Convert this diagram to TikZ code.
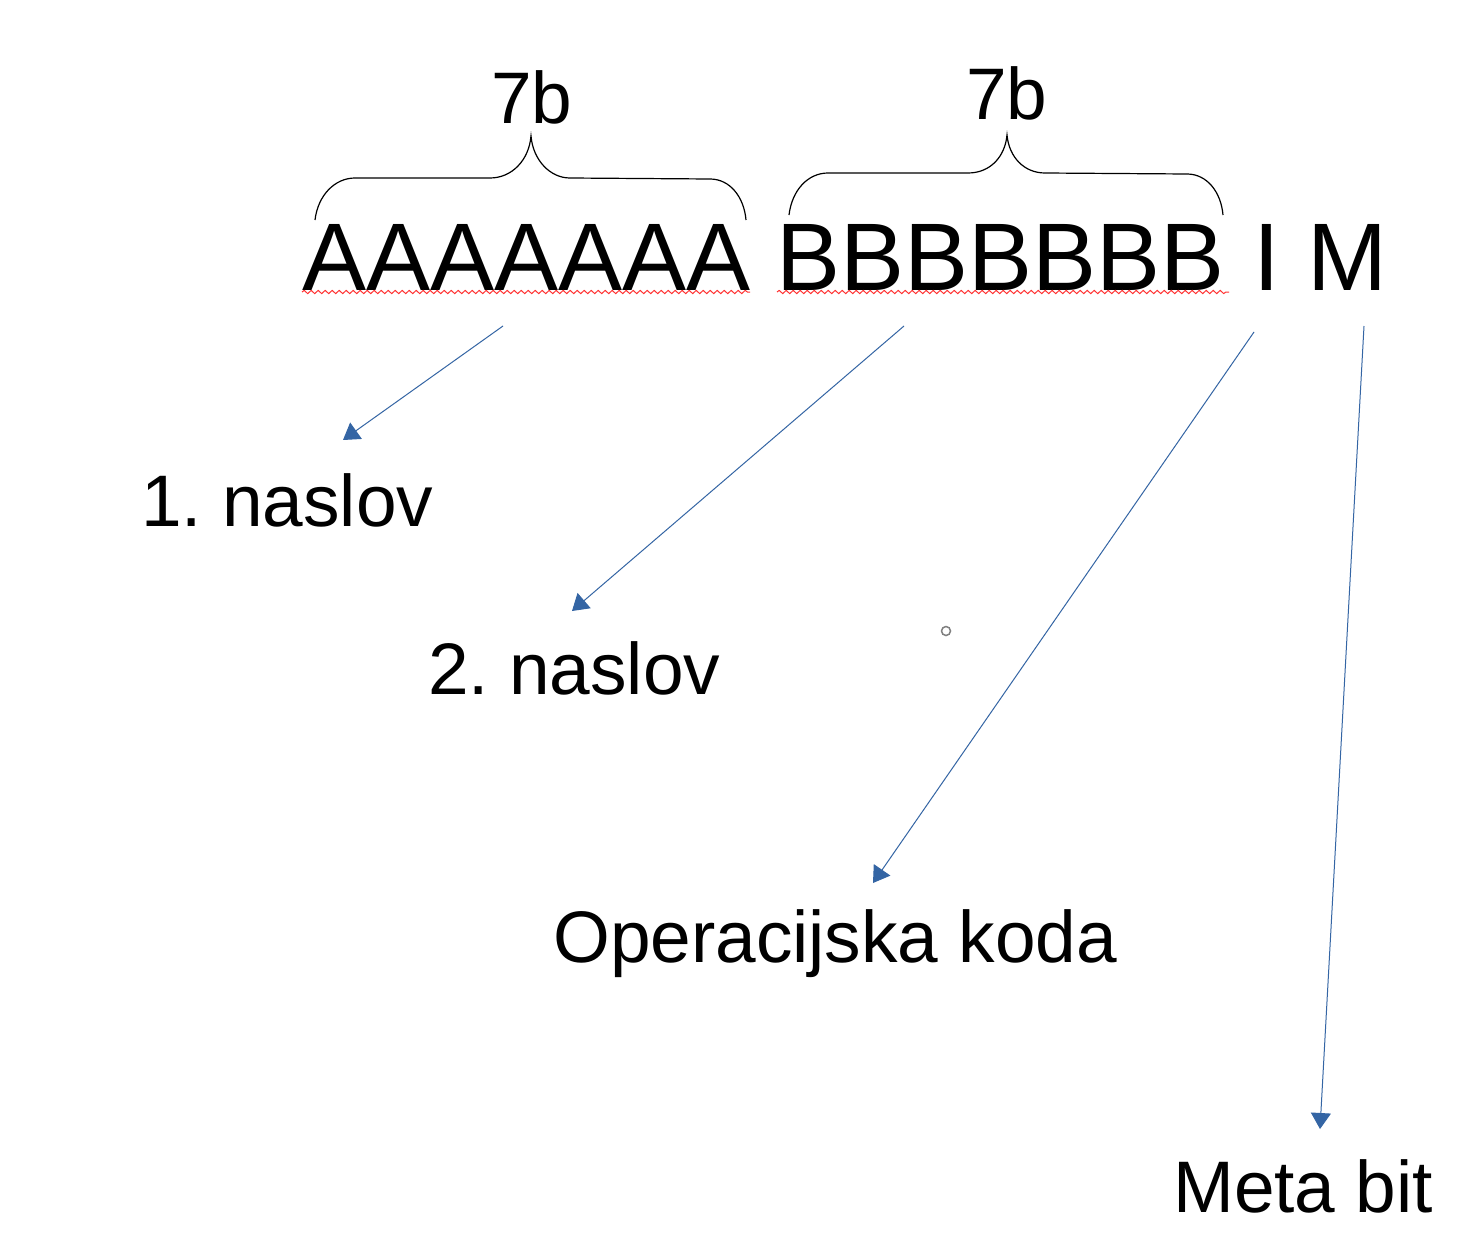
\documentclass[tikz,border=0pt]{standalone}
\usepackage{fontspec}
\setmainfont{Liberation Sans}
\usetikzlibrary{arrows.meta,decorations.pathmorphing}
\definecolor{arrowblue}{RGB}{52,101,164}
\frenchspacing
\begin{document}
\begin{tikzpicture}[x=1pt,y=-1pt,
  big/.style={font=\fontsize{96}{110}\selectfont, inner sep=0pt, anchor=base west},
  lbl/.style={font=\fontsize{73}{86}\selectfont, inner sep=0pt, anchor=base west},
  conn/.style={draw=arrowblue, line width=1pt, -{Triangle[length=16pt,width=20pt]}, arrowblue},
  bracestyle/.style={draw=black, line width=1.2pt},
  spell/.style={draw=red!80!white, line width=1pt, decorate, decoration={snake, amplitude=1.6pt, segment length=7pt}}]
\useasboundingbox (0,0) rectangle (1478,1255);
\fill[white] (0,0) rectangle (1478,1255);

% main word
\node[big] (wa) at (302,290) {AAAAAAA};
\node[big] (wb) at (776,290) {BBBBBBB};
\node[big] (wi) at (1253,290) {I};
\node[big] (wm) at (1307,290) {M};

% spell-check underlines
\draw[spell] (302,292) -- (750,292);
\draw[spell] (777,292) -- (1229,292);

% braces
\draw[bracestyle] (315,220) .. controls (318,195) and (335,178) .. (355,178) -- (490,178)
  .. controls (512,178) and (529,160) .. (531,136)
  .. controls (533,160) and (550,178) .. (570,178) -- (710,179)
  .. controls (730,179) and (744,197) .. (746,220);
\draw[bracestyle] (789,215) .. controls (792,190) and (808,173) .. (828,173) -- (968,173)
  .. controls (990,173) and (1005,157) .. (1007,135)
  .. controls (1009,157) and (1024,173) .. (1045,173) -- (1187,174)
  .. controls (1207,174) and (1221,192) .. (1223,215);

\node[lbl] (b1) at (491,123) {7b};
\node[lbl] (b2) at (966,119) {7b};

% target labels
\node[lbl] (n1) at (141,526) {1. naslov};
\node[lbl] (n2) at (428,694) {2. naslov};
\node[lbl] (op) at (553,962) {Operacijska koda};
\node[lbl] (mb) at (1173,1212) {Meta bit};

% arrow starts and ends
\coordinate (sA) at (503,326);
\coordinate (sB) at (904,326);
\coordinate (sI) at (1254,332);
\coordinate (sM) at (1364,326);
\coordinate (tA) at (343,440);
\coordinate (tB) at (572,611);
\coordinate (tI) at (873,883);
\coordinate (tM) at (1320,1129);

\draw[conn] (sA) -- (tA);
\draw[conn] (sB) -- (tB);
\draw[conn] (sI) -- (tI);
\draw[conn] (sM) -- (tM);

% small handle circle
\node[draw=gray, line width=1.5pt, circle, minimum size=9pt, inner sep=0pt] (handle) at (946,631) {};
\end{tikzpicture}
\end{document}
